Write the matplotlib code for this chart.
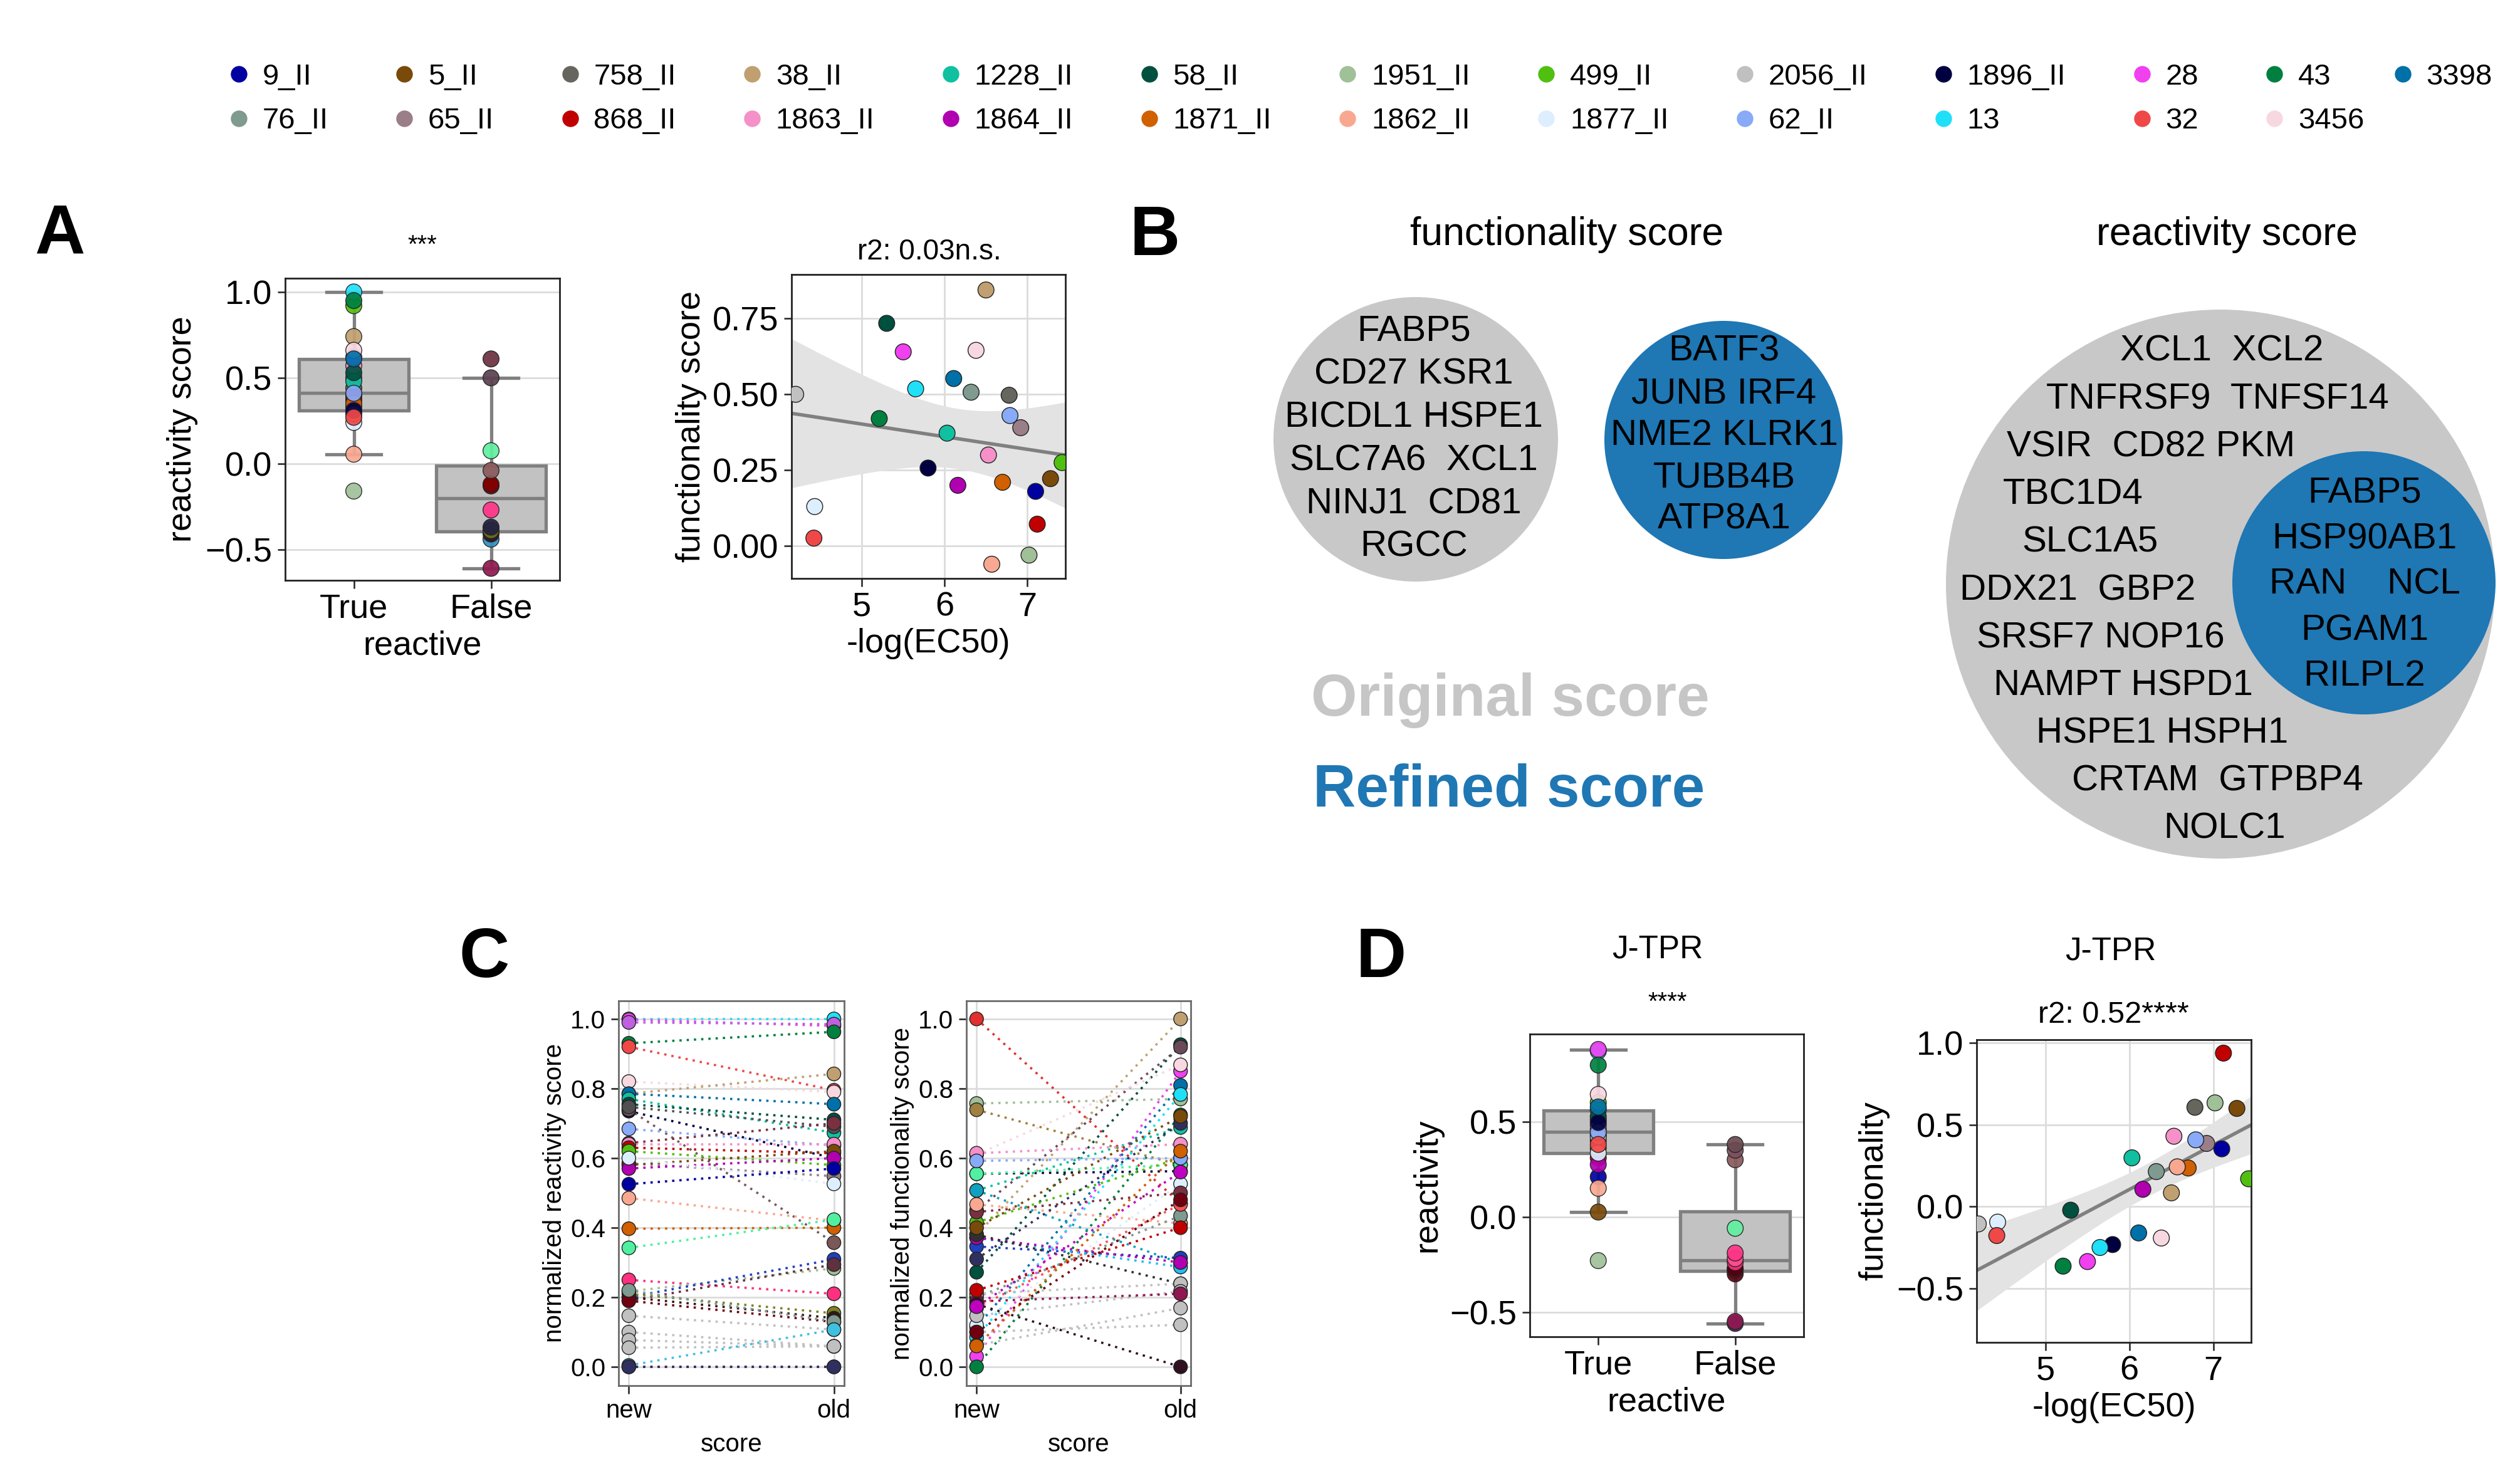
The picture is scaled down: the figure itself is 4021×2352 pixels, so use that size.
import numpy as np
import matplotlib
matplotlib.use("Agg")
import matplotlib.pyplot as plt
from matplotlib.lines import Line2D
from matplotlib.patches import Circle

plt.rcParams['font.family'] = ['Liberation Sans', 'DejaVu Sans']

# ---------------- data ----------------
# legend order (column-major, 13 columns)
names = ['9_II', '76_II', '5_II', '65_II', '758_II', '868_II', '38_II', '1863_II',
         '1228_II', '1864_II', '58_II', '1871_II', '1951_II', '1862_II', '499_II',
         '1877_II', '2056_II', '62_II', '1896_II', '13', '28', '32', '43', '3456', '3398']
colors = ['#0000a0', '#7f9a8f', '#7a4a0a', '#9a7f88', '#66665f', '#c00000', '#c0a070',
          '#f590c8', '#10c0a0', '#b000b0', '#005040', '#d06000', '#a0c098', '#f8a890',
          '#50c010', '#ddeeff', '#c0c0c0', '#88aaf8', '#000040', '#20e0f8', '#f040f0',
          '#f04848', '#008040', '#f8d8e0', '#0070a8']

ec50 = [7.10, 6.32, 7.28, 6.92, 6.78, 7.12, 6.50, 6.53, 6.03, 6.16, 5.30, 6.70, 7.02,
        6.57, 7.42, 4.43, 4.20, 6.79, 5.80, 5.65, 5.50, 4.42, 5.21, 6.38, 6.11]
func_old = [0.18, 0.507, 0.222, 0.39, 0.497, 0.072, 0.844, 0.30, 0.372, 0.20, 0.734, 0.21,
            -0.03, -0.06, 0.275, 0.13, 0.50, 0.43, 0.257, 0.518, 0.64, 0.026, 0.42, 0.645, 0.552]
react_old_true = [0.30, 0.50, 0.40, 0.37, 0.44, 0.39, 0.74, 0.57, 0.48, 0.33, 0.53, 0.35,
                  -0.16, 0.055, 0.92, 0.24, 0.29, 0.41, 0.31, 1.0, 0.62, 0.27, 0.95, 0.66, 0.61]
react_old_false = [-0.61, -0.44, -0.41, -0.39, -0.37, -0.27, -0.13, -0.12, -0.04, 0.075, 0.50, 0.61]
false_old_colors = ['#901850', '#3090c0', '#301020', '#707020', '#202040', '#ff3388',
                    '#700010', '#800000', '#8a5a5a', '#60f0a0', '#5a4050', '#6a3040']

func_jtpr = [0.353, 0.214, 0.60, 0.386, 0.607, 0.938, 0.084, 0.43, 0.298, 0.106, -0.022, 0.236,
             0.634, 0.243, 0.17, -0.095, -0.106, 0.408, -0.232, -0.25, -0.336, -0.177, -0.364,
             -0.192, -0.161]
react_jtpr_true = [0.21, 0.46, 0.025, 0.40, 0.43, 0.31, 0.51, 0.48, 0.56, 0.275, 0.527, 0.36,
                   -0.23, 0.15, 0.60, 0.335, 0.42, 0.445, 0.495, 0.87, 0.879, 0.38, 0.797, 0.643, 0.577]
react_jtpr_false = [-0.56, -0.55, -0.30, -0.28, -0.27, -0.24, -0.22, -0.19, -0.06, 0.30, 0.35, 0.38]
false_jtpr_colors = ['#3a2a5a', '#901850', '#600010', '#700010', '#500010', '#ff3080',
                     '#ff5090', '#ff3388', '#60f0a0', '#8a5a5a', '#7a5060', '#6a4a50']

# panel C: normalized scores (new, old) per line
c_react_new = [1.00, 0.998, 0.99, 0.93, 0.92, 0.82, 0.785, 0.785, 0.77, 0.755, 0.735, 0.74,
               0.747, 0.684, 0.643, 0.64, 0.63, 0.62, 0.585, 0.58, 0.57, 0.60, 0.525, 0.485,
               0.397, 0.342, 0.25, 0.217, 0.20, 0.19, 0.21, 0.20, 0.19, 0.22, 0.147, 0.10,
               0.077, 0.055, 0.004, 0.0, 0.0]
c_react_old = [1.00, 0.98, 0.985, 0.963, 0.795, 0.79, 0.842, 0.755, 0.673, 0.71, 0.60, 0.357,
               0.69, 0.636, 0.70, 0.64, 0.614, 0.58, 0.548, 0.62, 0.60, 0.526, 0.57, 0.42,
               0.40, 0.423, 0.21, 0.283, 0.309, 0.294, 0.154, 0.14, 0.129, 0.13, 0.107, 0.059,
               0.059, 0.059, 0.107, 0.0, 0.0]
c_react_colors = ['#20e0f8', '#f040f0', '#c060e0', '#008040', '#f04848', '#f8d8e0', '#c0a070',
                  '#0070a8', '#10c0a0', '#005040', '#000040', '#7a5858', '#505050', '#88aaf8',
                  '#7a3040', '#f590c8', '#c00000', '#50c010', '#9a7f88', '#7a4a0a', '#b000b0',
                  '#ddeeff', '#0000a0', '#f8a890', '#d06000', '#50f0a0', '#ff3080', '#a0c098',
                  '#2040c0', '#603040', '#808020', '#301818', '#700010', '#7f9a8f', '#c0c0c0',
                  '#c0c0c0', '#c0c0c0', '#c0c0c0', '#40c0e0', '#901850', '#303060']

c_func_new = [1.0, 0.757, 0.739, 0.38, 0.272, 0.45, 0.03, 0.61, 0.114, 0.085, 0.0, 0.507,
              0.614, 0.555, 0.555, 0.415, 0.592, 0.12, 0.445, 0.467, 0.20, 0.17, 0.346, 0.507,
              0.371, 0.371, 0.38, 0.21, 0.147, 0.0625, 0.10, 0.188, 0.18, 0.173, 0.06, 0.31,
              0.10, 0.22, 0.40]
c_func_old = [0.47, 0.77, 0.58, 1.0, 0.926, 0.919, 0.85, 0.868, 0.809, 0.783, 0.724, 0.688,
              0.64, 0.5625, 0.581, 0.60, 0.60, 0.526, 0.50, 0.412, 0.434, 0.467, 0.3125, 0.298,
              0.287, 0.30, 0.239, 0.239, 0.217, 0.169, 0.121, 0.21, 0.0, 0.56, 0.62, 0.70,
              0.48, 0.40, 0.72]
c_func_colors = ['#e03030', '#a0c098', '#a08040', '#c0a070', '#005040', '#6a4a5a', '#f040f0',
                 '#f8d8e0', '#0070a8', '#20e0f8', '#008040', '#10c0a0', '#f590c8', '#000040',
                 '#50f0a0', '#50c010', '#88aaf8', '#ddeeff', '#7a3040', '#f8a890', '#7f9a8f',
                 '#ff5050', '#2040c0', '#10a0c0', '#20c0f0', '#b000b0', '#303030', '#c0c0c0',
                 '#c0c0c0', '#c0c0c0', '#c0c0c0', '#901850', '#301020', '#c000c0', '#d06000',
                 '#303060', '#700010', '#c00000', '#7a4a0a']

# panel B gene lists
func_orig_genes = ['FABP5', 'CD27 KSR1', 'BICDL1 HSPE1', 'SLC7A6  XCL1', 'NINJ1  CD81', 'RGCC']
func_refined_genes = ['BATF3', 'JUNB IRF4', 'NME2 KLRK1', 'TUBB4B', 'ATP8A1']
react_orig_genes = ['XCL1  XCL2', 'TNFRSF9  TNFSF14', 'VSIR  CD82 PKM', 'TBC1D4', 'SLC1A5',
                    'DDX21  GBP2', 'SRSF7 NOP16', 'NAMPT HSPD1', 'HSPE1 HSPH1', 'CRTAM  GTPBP4',
                    'NOLC1']
react_refined_genes = ['FABP5', 'HSP90AB1', 'RAN    NCL', 'PGAM1', 'RILPL2']

# ---------------- figure ----------------
W, H = 4021, 2352
fig = plt.figure(figsize=(W / 200, H / 200), dpi=200)

ov = fig.add_axes([0, 0, 1, 1])
ov.set_xlim(0, W)
ov.set_ylim(H, 0)
ov.axis('off')


def px_axes(x0, y0, x1, y1):
    return fig.add_axes([x0 / W, 1 - y1 / H, (x1 - x0) / W, (y1 - y0) / H])


def style(ax, fs, spine='#222222'):
    for s in ax.spines.values():
        s.set_color(spine)
        s.set_linewidth(1.0)
    ax.tick_params(direction='out', length=4.5, width=0.9, color='#222222', labelsize=fs, pad=3)
    ax.grid(color='#dcdcdc', lw=1.0)
    ax.set_axisbelow(True)


GRAY = '#808080'
FS = 19.5   # ticks / labels in A and D


def box_strip(ax, tvals, tcols, fvals, fcols):
    ax.boxplot([tvals, fvals], positions=[0, 1], widths=0.8, patch_artist=True,
               showfliers=False,
               boxprops=dict(facecolor='#c2c2c2', edgecolor=GRAY, linewidth=1.9),
               whiskerprops=dict(color=GRAY, linewidth=1.9),
               capprops=dict(color=GRAY, linewidth=1.9),
               medianprops=dict(color=GRAY, linewidth=1.9), zorder=2)
    ax.scatter(np.zeros(len(tvals)), tvals, s=85, c=tcols, edgecolors='#222222',
               linewidths=0.5, alpha=0.92, zorder=3)
    ax.scatter(np.ones(len(fvals)), fvals, s=85, c=fcols, edgecolors='#222222',
               linewidths=0.5, alpha=0.92, zorder=3)
    ax.set_xlim(-0.5, 1.5)
    ax.set_xticks([0, 1])
    ax.set_xticklabels(['True', 'False'])
    ax.grid(False, axis='x')


def reg_band(ax, x, y, xlim):
    x = np.asarray(x)
    y = np.asarray(y)
    xs = np.linspace(xlim[0], xlim[1], 200)
    b, a = np.polyfit(x, y, 1)
    yhat = a + b * xs
    resid = y - (a + b * x)
    n = len(x)
    s = np.sqrt(np.sum(resid ** 2) / (n - 2))
    se = s * np.sqrt(1 / n + (xs - x.mean()) ** 2 / np.sum((x - x.mean()) ** 2))
    ax.fill_between(xs, yhat - 2.069 * se, yhat + 2.069 * se, color='#e3e3e3', lw=0, zorder=1)
    ax.plot(xs, yhat, color=GRAY, lw=2.0, zorder=2)


# ---- panel A ----
axA1 = px_axes(455, 444, 893, 926)
style(axA1, FS)
box_strip(axA1, react_old_true, colors, react_old_false, false_old_colors)
axA1.set_ylim(-0.68, 1.08)
axA1.set_yticks([-0.5, 0.0, 0.5, 1.0])
axA1.set_ylabel('reactivity score', fontsize=FS)
axA1.set_xlabel('reactive', fontsize=FS, labelpad=3)

axA2 = px_axes(1263, 438, 1700, 923)
style(axA2, FS)
xlA = (4.15, 7.46)
reg_band(axA2, ec50, func_old, xlA)
axA2.scatter(ec50, func_old, s=85, c=colors, edgecolors='#222222', linewidths=0.5, zorder=3)
axA2.set_xlim(*xlA)
axA2.set_ylim(-0.107, 0.895)
axA2.set_xticks([5, 6, 7])
axA2.set_yticks([0.0, 0.25, 0.5, 0.75])
axA2.set_yticklabels(['0.00', '0.25', '0.50', '0.75'])
axA2.set_ylabel('functionality score', fontsize=FS, labelpad=3)
axA2.set_xlabel('-log(EC50)', fontsize=FS, labelpad=3)

# ---- panel C ----
for rect, new, old, cols, lab in [((987, 1597, 1347, 2211), c_react_new, c_react_old, c_react_colors,
                                   'normalized reactivity score'),
                                  ((1542, 1597, 1900, 2211), c_func_new, c_func_old, c_func_colors,
                                   'normalized functionality score')]:
    ax = px_axes(*rect)
    style(ax, 14.5, spine='#6a6a6a')
    for n_, o_, c_ in zip(new, old, cols):
        ax.plot([0, 1], [n_, o_], ls=(0, (1, 2.2)), color=c_, lw=1.3, zorder=2)
    ax.scatter(np.zeros(len(new)), new, s=62, c=cols, edgecolors='#222222', linewidths=0.5, zorder=3)
    ax.scatter(np.ones(len(old)), old, s=62, c=cols, edgecolors='#222222', linewidths=0.5, zorder=3)
    ax.set_xlim(-0.05, 1.05)
    ax.set_ylim(-0.054, 1.052)
    ax.set_xticks([0, 1])
    ax.set_xticklabels(['new', 'old'])
    ax.set_yticks(np.arange(0, 1.01, 0.2))
    ax.set_ylabel(lab, fontsize=14.5, labelpad=2)
    ax.set_xlabel('score', fontsize=14.5, labelpad=6)

# ---- panel D ----
axD1 = px_axes(2441, 1650, 2878, 2133)
style(axD1, FS)
box_strip(axD1, react_jtpr_true, colors, react_jtpr_false, false_jtpr_colors)
axD1.set_ylim(-0.63, 0.96)
axD1.set_yticks([-0.5, 0.0, 0.5])
axD1.set_ylabel('reactivity', fontsize=FS)
axD1.set_xlabel('reactive', fontsize=FS, labelpad=3)

axD2 = px_axes(3154, 1659, 3592, 2142)
style(axD2, FS)
xlD = (4.18, 7.45)
reg_band(axD2, ec50, func_jtpr, xlD)
axD2.scatter(ec50, func_jtpr, s=85, c=colors, edgecolors='#222222', linewidths=0.5, zorder=3)
axD2.set_xlim(*xlD)
axD2.set_ylim(-0.83, 1.02)
axD2.set_xticks([5, 6, 7])
axD2.set_yticks([-0.5, 0.0, 0.5, 1.0])
axD2.set_ylabel('functionality', fontsize=FS)
axD2.set_xlabel('-log(EC50)', fontsize=FS, labelpad=3)

# ---- free text ----
for lab, x, y in [('A', 95, 376), ('B', 1843, 378), ('C', 773, 1530), ('D', 2204, 1530)]:
    ov.text(x, y, lab, fontsize=40, fontweight='bold', ha='center', va='center')
ov.text(674, 392, '***', fontsize=14.5, ha='center', va='center')
ov.text(1483, 402, 'r2: 0.03n.s.', fontsize=16.5, ha='center', va='center')
ov.text(2645, 1515, 'J-TPR', fontsize=18.5, ha='center', va='center')
ov.text(2661, 1600, '****', fontsize=14.5, ha='center', va='center')
ov.text(3368, 1518, 'J-TPR', fontsize=18.5, ha='center', va='center')
ov.text(3372, 1619, 'r2: 0.52****', fontsize=17.5, ha='center', va='center')

# ---- panel B ----
CGRAY = '#c8c8c8'
CBLUE = '#1f77b4'
ov.add_patch(Circle((2259, 701), 227, color=CGRAY, lw=0))
ov.add_patch(Circle((2750, 702), 190, color=CBLUE, lw=0))
ov.add_patch(Circle((3543, 932), 438, color=CGRAY, lw=0))
ov.add_patch(Circle((3772, 930), 210, color=CBLUE, lw=0))

ov.text(2500, 374, 'functionality score', fontsize=22.5, ha='center', va='center')
ov.text(3553, 374, 'reactivity score', fontsize=22.5, ha='center', va='center')

gene_fs = 21
for i, g in enumerate(func_orig_genes):
    ov.text(2256, 529 + 68.8 * i, g, fontsize=gene_fs, ha='center', va='center')
for i, g in enumerate(func_refined_genes):
    ov.text(2751, 561 + 67 * i, g, fontsize=gene_fs, ha='center', va='center')
react_orig_x = [3545, 3538, 3432, 3308, 3335, 3315, 3352, 3388, 3450, 3538, 3550]
for i, g in enumerate(react_orig_genes):
    ov.text(react_orig_x[i], 561 + 76.2 * i, g, fontsize=gene_fs, ha='center', va='center')
for i, g in enumerate(react_refined_genes):
    ov.text(3773, 787 + 73 * i, g, fontsize=gene_fs, ha='center', va='center')

ov.text(2410, 1118, 'Original score', fontsize=34, fontweight='bold', color='#c6c6c6',
        ha='center', va='center')
ov.text(2408, 1263, 'Refined score', fontsize=34, fontweight='bold', color=CBLUE,
        ha='center', va='center')

# ---- legend ----
handles = [Line2D([], [], marker='o', ls='', markersize=8.5, markerfacecolor=c,
                  markeredgecolor=c) for c in colors]
leg_kw = dict(loc='upper left', frameon=False, fontsize=17, handlelength=0.8,
              handletextpad=0.4, columnspacing=2.17, labelspacing=0.56,
              borderpad=0, borderaxespad=0)
fig.legend(handles[:24], names[:24], ncol=12, bbox_to_anchor=(362 / W, 1 - 101 / H), **leg_kw)
fig.legend(handles[24:], names[24:], ncol=1, bbox_to_anchor=(3815 / W, 1 - 101 / H), **leg_kw)

fig.savefig('out.png', dpi=200, facecolor='white')
